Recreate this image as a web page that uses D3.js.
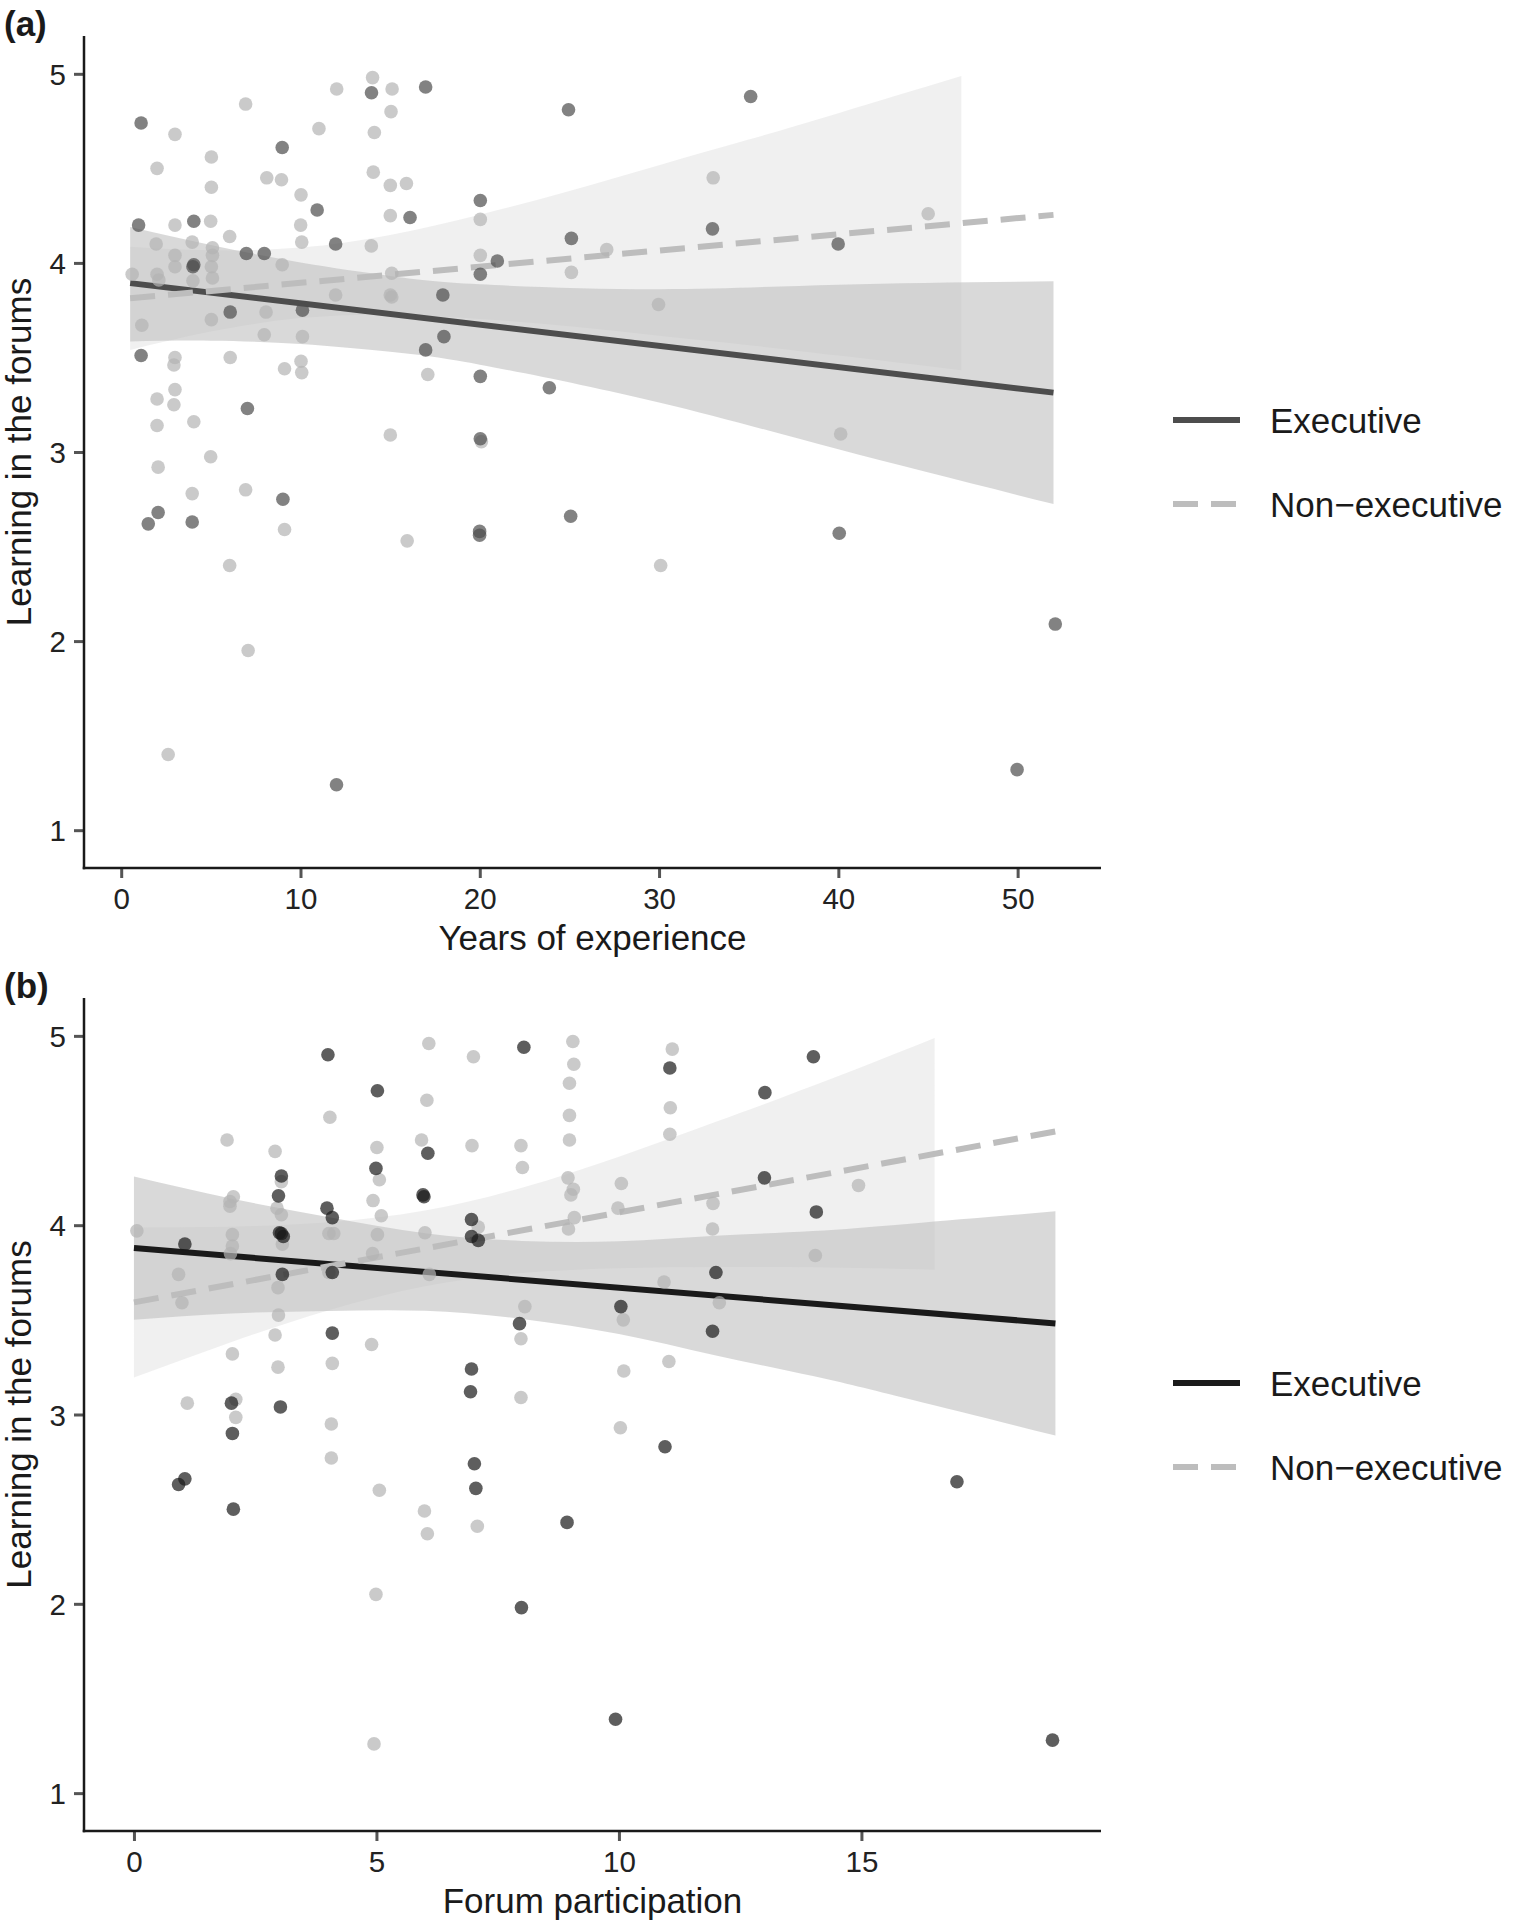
<!DOCTYPE html>
<html>
<head>
<meta charset="utf-8">
<script src="https://cdn.jsdelivr.net/npm/d3@7"></script>
<style>
  html, body { margin: 0; padding: 0; background: #fff; }
  svg { display: block; font-family: "Liberation Sans", Arial, Helvetica, sans-serif; }
</style>
</head>
<body>
<svg id="chart" width="1525" height="1925"></svg>
<script>
// ---------------- DATA ----------------
const seriesNames = ["Executive", "Non\u2212executive"];
const panelTags = ["(a)", "(b)"];
const xTitles = ["Years of experience", "Forum participation"];
const yTitle = "Learning in the forums";
const yTicks = [1, 2, 3, 4, 5];
const xTicksA = [0, 10, 20, 30, 40, 50];
const xTicksB = [0, 5, 10, 15];

// Panel (a): years of experience vs learning
const execPointsA = [
  [1.11,4.74],[8.98,4.61],[13.96,4.90],[16.98,4.93],[10.93,4.28],[16.11,4.24],[20.03,4.33],[20.03,3.94],
  [20.98,4.01],[0.97,4.20],[4.05,4.22],[11.96,4.10],[4.05,3.99],[4.00,3.98],[6.98,4.05],[7.98,4.05],
  [17.94,3.83],[6.08,3.74],[10.11,3.75],[18.00,3.61],[16.98,3.54],[1.11,3.51],[20.03,3.40],[23.88,3.34],
  [7.04,3.23],[20.03,3.07],[9.02,2.75],[2.06,2.68],[1.51,2.62],[3.96,2.63],[19.99,2.58],[19.99,2.56],
  [12.01,1.24],[24.95,4.81],[35.11,4.88],[25.11,4.13],[32.98,4.18],[39.99,4.10],[25.07,2.66],[40.05,2.57],
  [52.10,2.09],[49.97,1.32]
];
const nonExecPointsA = [
  [3.00,4.68],[2.00,4.50],[5.03,4.56],[5.03,4.40],[6.94,4.84],[8.12,4.45],[8.94,4.44],[10.03,4.36],
  [11.03,4.71],[12.02,4.92],[14.02,4.98],[15.11,4.92],[15.05,4.80],[14.12,4.69],[14.06,4.48],[15.01,4.41],
  [15.91,4.42],[15.01,4.25],[20.03,4.23],[20.03,4.04],[3.00,4.20],[4.99,4.22],[6.05,4.14],[10.01,4.20],
  [10.07,4.11],[13.95,4.09],[1.95,4.10],[3.96,4.11],[3.00,4.04],[3.00,3.98],[5.09,4.08],[5.09,4.04],
  [5.03,3.98],[5.09,3.92],[8.98,3.99],[0.61,3.94],[2.00,3.94],[2.10,3.91],[4.00,3.905],[15.09,3.945],
  [15.01,3.83],[15.09,3.82],[11.96,3.83],[1.15,3.67],[5.03,3.70],[8.08,3.74],[7.98,3.62],[10.11,3.61],
  [3.00,3.50],[2.94,3.46],[6.08,3.50],[9.11,3.44],[10.03,3.48],[10.07,3.42],[17.10,3.41],[2.00,3.28],
  [3.00,3.33],[2.94,3.25],[2.00,3.14],[4.05,3.16],[15.01,3.09],[20.09,3.055],[4.99,2.975],[2.06,2.92],
  [3.96,2.78],[6.94,2.80],[9.11,2.59],[15.95,2.53],[6.05,2.40],[7.08,1.95],[2.62,1.40],[33.02,4.45],
  [27.08,4.07],[25.11,3.95],[45.01,4.26],[29.97,3.78],[40.13,3.095],[30.09,2.40]
];
// fitted lines: x, executive fit, non-executive fit
const fitXA = [0.5, 52];
const execFitA = [3.893, 3.314];
const nonExecFitA = [3.813, 4.254];
// confidence bands
const execBandXA = [0.5, 5, 10, 15, 20, 30, 40, 52];
const execBandLoA = [3.585, 3.589, 3.571, 3.530, 3.462, 3.262, 3.014, 2.725];
const execBandHiA = [4.190, 4.095, 4.002, 3.931, 3.887, 3.861, 3.885, 3.903];
const nonExecBandXA = [0.5, 5, 10, 15, 20, 25, 30, 35, 40, 46.86];
const nonExecBandLoA = [3.540, 3.637, 3.708, 3.726, 3.704, 3.665, 3.615, 3.565, 3.510, 3.432];
const nonExecBandHiA = [4.086, 4.067, 4.081, 4.148, 4.255, 4.380, 4.517, 4.652, 4.792, 4.988];

// Panel (b): forum participation vs learning
const execPointsB = [
  [1.05,3.90],[2.01,3.06],[2.03,2.90],[3.04,4.26],[2.98,4.155],[3.04,3.956],[3.00,3.96],[3.08,3.94],
  [3.06,3.74],[3.02,3.04],[4.00,4.90],[3.98,4.09],[4.09,4.04],[4.09,3.75],[4.09,3.43],[5.02,4.71],
  [4.99,4.30],[6.06,4.38],[5.98,4.15],[5.96,4.16],[6.96,4.03],[6.96,3.94],[7.10,3.92],[6.96,3.24],
  [6.94,3.12],[8.04,4.94],[7.95,3.48],[11.05,4.83],[13.01,4.70],[14.01,4.89],[13.00,4.25],[14.07,4.07],
  [12.00,3.75],[10.04,3.57],[11.93,3.44],[0.92,2.63],[1.05,2.66],[2.05,2.50],[7.02,2.74],[7.05,2.61],
  [7.99,1.98],[10.95,2.83],[8.93,2.43],[16.97,2.645],[9.93,1.39],[18.94,1.28]
];
const nonExecPointsB = [
  [0.06,3.97],[0.92,3.74],[0.99,3.59],[1.10,3.06],[1.92,4.45],[2.05,4.15],[1.98,4.125],[1.98,4.10],
  [2.03,3.95],[2.03,3.89],[1.99,3.85],[2.03,3.32],[2.10,3.08],[2.10,2.985],[2.91,4.39],[3.04,4.23],
  [2.95,4.09],[3.04,4.055],[3.06,3.90],[2.97,3.67],[2.98,3.525],[2.91,3.42],[2.97,3.25],[4.04,4.57],
  [4.02,3.956],[4.12,3.956],[4.02,3.75],[4.09,3.27],[4.07,2.95],[5.01,4.41],[5.06,4.24],[4.93,4.13],
  [5.10,4.05],[5.02,3.95],[4.92,3.85],[4.90,3.37],[6.08,4.96],[6.04,4.66],[5.93,4.45],[6.00,3.96],
  [6.09,3.74],[7.00,4.89],[6.97,4.42],[7.10,3.99],[7.98,4.42],[8.01,4.305],[8.06,3.57],[7.98,3.40],
  [7.98,3.09],[9.05,4.97],[9.07,4.85],[8.98,4.75],[8.98,4.58],[8.98,4.45],[8.95,4.25],[9.06,4.19],
  [9.01,4.16],[9.08,4.04],[8.96,3.98],[10.05,4.22],[9.98,4.09],[11.10,4.93],[11.06,4.62],[11.05,4.48],
  [11.94,4.115],[11.93,3.98],[14.94,4.21],[14.05,3.84],[10.93,3.70],[10.09,3.50],[12.07,3.59],[11.03,3.28],
  [10.10,3.23],[10.03,2.93],[4.07,2.77],[5.06,2.60],[5.99,2.49],[6.05,2.37],[7.08,2.41],[4.99,2.05],
  [4.95,1.26]
];
const fitXB = [0, 19];
const execFitB = [3.879, 3.481];
const nonExecFitB = [3.592, 4.495];
const execBandXB = [0, 2, 4, 6, 8, 10, 12, 14, 16, 19];
const execBandLoB = [3.501, 3.534, 3.547, 3.548, 3.505, 3.425, 3.312, 3.203, 3.080, 2.889];
const execBandHiB = [4.257, 4.141, 4.043, 3.958, 3.917, 3.915, 3.944, 3.969, 4.008, 4.073];
const nonExecBandXB = [0, 2, 4, 6, 8, 10, 12, 14, 16.51];
const nonExecBandLoB = [3.196, 3.382, 3.549, 3.677, 3.747, 3.773, 3.779, 3.778, 3.765];
const nonExecBandHiB = [3.988, 3.992, 4.015, 4.077, 4.198, 4.362, 4.546, 4.736, 4.989];

// ---------------- LAYOUT / STYLE ----------------
const panels = [
  {
    tag: panelTags[0], xTitle: xTitles[0], xTicks: xTicksA,
    xDomain: [-2.075, 54.65], top: 36, bottom: 868,
    execPts: execPointsA, nonPts: nonExecPointsA,
    fitX: fitXA, execFit: execFitA, nonFit: nonExecFitA,
    eBX: execBandXA, eLo: execBandLoA, eHi: execBandHiA,
    nBX: nonExecBandXA, nLo: nonExecBandLoA, nHi: nonExecBandHiA,
    execColor: "#4d4d4d", legendY: 420
  },
  {
    tag: panelTags[1], xTitle: xTitles[1], xTicks: xTicksB,
    xDomain: [-1.03, 19.94], top: 998, bottom: 1831,
    execPts: execPointsB, nonPts: nonExecPointsB,
    fitX: fitXB, execFit: execFitB, nonFit: nonExecFitB,
    eBX: execBandXB, eLo: execBandLoB, eHi: execBandHiB,
    nBX: nonExecBandXB, nLo: nonExecBandLoB, nHi: nonExecBandHiB,
    execColor: "#1a1a1a", legendY: 1383
  }
];
const left = 84, right = 1101;
const nonColor = "#b3b3b3", nonLine = "#bdbdbd";

const svg = d3.select("#chart");

panels.forEach((p, pi) => {
  const x = d3.scaleLinear().domain(p.xDomain).range([left, right]);
  const y = d3.scaleLinear().domain([0.8, 5.2]).range([p.bottom, p.top]);
  const g = svg.append("g");

  // ribbons
  const band = (xs, lo, hi) => xs.map((v, i) => ({x: v, lo: lo[i], hi: hi[i]}));
  const area = d3.area().x(d => x(d.x)).y0(d => y(d.lo)).y1(d => y(d.hi)).curve(d3.curveNatural);
  g.append("path").datum(band(p.nBX, p.nLo, p.nHi)).attr("d", area)
    .attr("fill", "#e6e6e6").attr("fill-opacity", 0.6);
  g.append("path").datum(band(p.eBX, p.eLo, p.eHi)).attr("d", area)
    .attr("fill", "#bfbfbf").attr("fill-opacity", 0.6);

  // fitted lines
  const line = d3.line().x(d => x(d[0])).y(d => y(d[1]));
  g.append("path").datum(p.fitX.map((v, i) => [v, p.execFit[i]])).attr("d", line)
    .attr("fill", "none").attr("stroke", p.execColor).attr("stroke-width", 6);
  g.append("path").datum(p.fitX.map((v, i) => [v, p.nonFit[i]])).attr("d", line)
    .attr("fill", "none").attr("stroke", nonLine).attr("stroke-width", 6)
    .attr("stroke-dasharray", "25,13");

  // points
  g.append("g").selectAll("circle").data(p.nonPts).join("circle")
    .attr("cx", d => x(d[0])).attr("cy", d => y(d[1])).attr("r", 6.8)
    .attr("fill", nonColor).attr("fill-opacity", 0.7);
  g.append("g").selectAll("circle").data(p.execPts).join("circle")
    .attr("cx", d => x(d[0])).attr("cy", d => y(d[1])).attr("r", 6.8)
    .attr("fill", p.execColor).attr("fill-opacity", 0.7);

  // axes
  const xAxis = g.append("g").attr("transform", `translate(0,${p.bottom})`)
    .call(d3.axisBottom(x).tickValues(p.xTicks).tickSize(10).tickPadding(8).tickFormat(d3.format("d")));
  const yAxis = g.append("g").attr("transform", `translate(${left},0)`)
    .call(d3.axisLeft(y).tickValues(yTicks).tickSize(10).tickPadding(8).tickFormat(d3.format("d")));
  [xAxis, yAxis].forEach(a => {
    a.select(".domain").remove();
    a.selectAll(".tick line").attr("stroke", "#555").attr("stroke-width", 3);
    a.selectAll(".tick text").attr("fill", "#222").attr("font-size", 29.5)
      .attr("font-family", "'Liberation Sans', Arial, sans-serif");
  });
  xAxis.selectAll(".tick text").attr("dy", null).attr("y", 0)
    .attr("transform", "translate(0,41)");
  yAxis.selectAll(".tick text").attr("dy", "0.36em");
  g.append("line").attr("x1", left).attr("x2", left).attr("y1", p.top).attr("y2", p.bottom + 1.25)
    .attr("stroke", "#1a1a1a").attr("stroke-width", 2.5);
  g.append("line").attr("x1", left - 1.25).attr("x2", right).attr("y1", p.bottom).attr("y2", p.bottom)
    .attr("stroke", "#1a1a1a").attr("stroke-width", 2.5);

  // titles
  g.append("text").attr("x", (left + right) / 2).attr("y", p.bottom + 82)
    .attr("text-anchor", "middle").attr("font-size", 35).attr("fill", "#1a1a1a").text(p.xTitle);
  g.append("text").attr("transform", `translate(31,${(p.top + p.bottom) / 2}) rotate(-90)`)
    .attr("text-anchor", "middle").attr("font-size", 35).attr("fill", "#1a1a1a").text(yTitle);
  g.append("text").attr("x", 4).attr("y", p.top).attr("font-size", 35).attr("font-weight", "bold")
    .attr("fill", "#1a1a1a").text(p.tag);

  // legend
  const lg = g.append("g");
  const ly = [p.legendY, p.legendY + 84];
  lg.append("line").attr("x1", 1173).attr("x2", 1240).attr("y1", ly[0]).attr("y2", ly[0])
    .attr("stroke", p.execColor).attr("stroke-width", 6);
  lg.append("line").attr("x1", 1173).attr("x2", 1236).attr("y1", ly[1]).attr("y2", ly[1])
    .attr("stroke", nonLine).attr("stroke-width", 6).attr("stroke-dasharray", "25,13");
  seriesNames.forEach((s, i) => {
    lg.append("text").attr("x", 1270).attr("y", ly[i] + 12.5).attr("font-size", 35)
      .attr("fill", "#1a1a1a").text(s);
  });
});
</script>
</body>
</html>
